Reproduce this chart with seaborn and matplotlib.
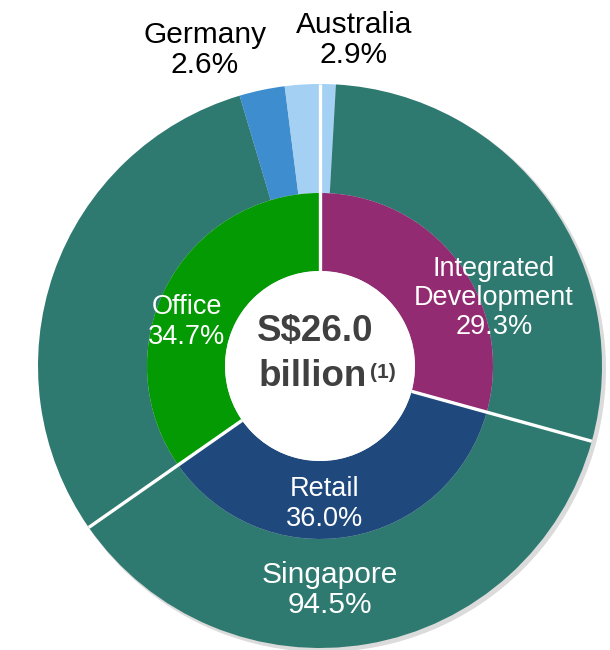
import matplotlib
matplotlib.use("Agg")
import numpy as np
import matplotlib.pyplot as plt
import seaborn as sns
from matplotlib.patches import Circle

sns.set_theme(style="white")
plt.rcParams["font.family"] = ["Liberation Sans", "DejaVu Sans"]

# Inner ring: asset type split
sector_names = ["Integrated\nDevelopment", "Retail", "Office"]
sector_share = [29.3, 36.0, 34.7]
sector_colors = ["#922B72", "#1F497D", "#039A03"]

# Outer ring: country split inside each sector (clockwise from 12 o'clock)
country_parts = ["Australia", "Singapore", "Singapore", "Singapore", "Germany", "Australia"]
country_share = [0.9, 28.4, 36.0, 30.1, 2.6, 2.0]
country_colors = {"Singapore": "#2E7A70", "Germany": "#3E8ECF", "Australia": "#A4D1F3"}

country_totals = {"Singapore": 94.5, "Germany": 2.6, "Australia": 2.9}
total_label = "S$26.0"

# Geometry (pixels of a 610x650 canvas)
cx, cy = 320, 650 - 366
r_outer, r_inner, r_hole = 282, 173, 95

fig = plt.figure(figsize=(6.1, 6.5), dpi=100)
ax = fig.add_axes([0, 0, 1, 1])

# soft shadow behind outer ring
ax.add_patch(Circle((cx + 3, cy - 3), r_outer + 1, color="#999999", alpha=0.35, lw=0, zorder=0))

ax.pie(country_share, radius=r_outer, center=(cx, cy), startangle=90, counterclock=False,
       colors=[country_colors[c] for c in country_parts],
       wedgeprops=dict(width=r_outer - r_inner, edgecolor="none", linewidth=0))
ax.pie(sector_share, radius=r_inner, center=(cx, cy), startangle=90, counterclock=False,
       colors=sector_colors,
       wedgeprops=dict(width=r_inner - r_hole, edgecolor="none", linewidth=0))
ax.add_patch(Circle((cx, cy), r_hole, color="white", lw=0, zorder=3))

# white separators at sector boundaries
bounds = np.concatenate([[0], np.cumsum(sector_share)[:-1]])
for b in bounds:
    ang = np.deg2rad(90 - b / 100 * 360)
    ax.plot([cx + r_hole * np.cos(ang), cx + r_outer * np.cos(ang)],
            [cy + r_hole * np.sin(ang), cy + r_outer * np.sin(ang)],
            color="white", lw=2.4, solid_capstyle="butt", zorder=4)

# pie() resets the limits, so set them afterwards
ax.set_xlim(0, 610)
ax.set_ylim(0, 650)
ax.set_aspect("equal")
ax.axis("off")

fs = 19.5
ax.text(494, 650 - 298, f"{sector_names[0]}\n{sector_share[0]:.1f}%", color="white",
        fontsize=fs, ha="center", va="center", linespacing=1.15, zorder=5)
ax.text(325, 650 - 504, f"{sector_names[1]}\n{sector_share[1]:.1f}%", color="white",
        fontsize=fs, ha="center", va="center", linespacing=1.15, zorder=5)
ax.text(187, 650 - 322, f"{sector_names[2]}\n{sector_share[2]:.1f}%", color="white",
        fontsize=fs, ha="center", va="center", linespacing=1.15, zorder=5)

cfs = 21.5
ax.text(330, 650 - 590, f"Singapore\n{country_totals['Singapore']:.1f}%", color="white",
        fontsize=cfs, ha="center", va="center", linespacing=1.1, zorder=5)
ax.text(205, 650 - 50, f"Germany\n{country_totals['Germany']:.1f}%", color="black",
        fontsize=cfs, ha="center", va="center", linespacing=1.1, zorder=5)
ax.text(354, 650 - 40, f"Australia\n{country_totals['Australia']:.1f}%", color="black",
        fontsize=cfs, ha="center", va="center", linespacing=1.1, zorder=5)

ax.text(315, 650 - 332, total_label, color="#404040", fontsize=26.5, fontweight="bold",
        ha="center", va="center", zorder=5)
ax.text(367, 650 - 377, "billion", color="#404040", fontsize=26.5, fontweight="bold",
        ha="right", va="center", zorder=5)
ax.text(370, 650 - 372, "(1)", color="#404040", fontsize=15, fontweight="bold",
        ha="left", va="center", zorder=5)

fig.savefig("out.png", dpi=100)
